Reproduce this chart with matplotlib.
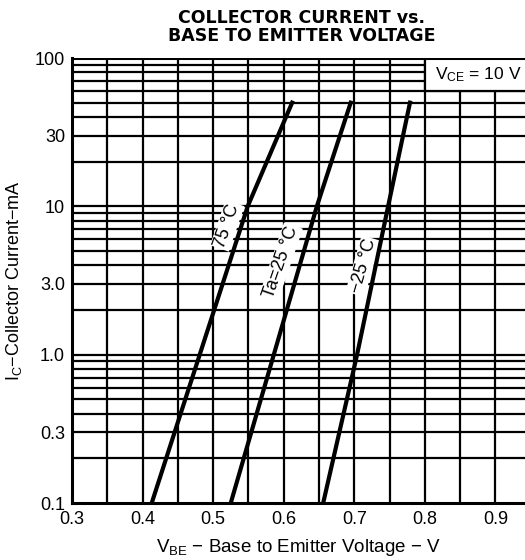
import matplotlib.pyplot as plt
import numpy as np
from matplotlib.patches import Rectangle

plt.rcParams['font.family'] = ['Liberation Sans', 'DejaVu Sans']

# curves: collector current (mA) vs V_BE (V)
ic_pts = [0.1, 1.0, 10.0, 50.0]
vbe_75 = [0.413, 0.481, 0.549, 0.612]
vbe_25 = [0.525, 0.586, 0.647, 0.695]
vbe_m25 = [0.656, 0.704, 0.748, 0.779]

x_ticks = [0.3, 0.4, 0.5, 0.6, 0.7, 0.8, 0.9]
y_ticks = [0.1, 0.3, 1.0, 3.0, 10, 30, 100]
y_labels = ['0.1', '0.3', '1.0', '3.0', '10', '30', '100']

fig = plt.figure(figsize=(5.25, 5.6), dpi=100)
ax = fig.add_axes([72/525, 1-503/560, 1-72/525, (503-58)/560])

ax.set_yscale('log')
ax.set_xlim(0.3, 0.942)
ax.set_ylim(0.1, 100)

# grid: every 0.05 V, and 1..9 in each decade
for xv in np.arange(0.35, 0.93, 0.05):
    ax.axvline(xv, color='black', lw=1.6, zorder=1)
for dec in [0.1, 1, 10]:
    for m in range(1, 10):
        if dec*m > 0.1:
            ax.axhline(dec*m, color='black', lw=1.6, zorder=1)

# V_CE box in the top right corner
ax.add_patch(Rectangle((0.8, 60), 0.2, 50, facecolor='white',
                       edgecolor='black', lw=1.6, zorder=2))
ax.text(0.814, 77, r'$\mathregular{V_{CE}}$ = 10 V', fontsize=12.5,
        va='center', ha='left', zorder=3)

ax.plot(vbe_75, ic_pts, color='black', lw=3, zorder=4)
ax.plot(vbe_25, ic_pts, color='black', lw=3, zorder=4)
ax.plot(vbe_m25, ic_pts, color='black', lw=3, zorder=4)

box = dict(facecolor='white', edgecolor='none', pad=1)
ax.text(0.520, 7.4, '75 °C', rotation=71, fontsize=13, ha='center',
        va='center', bbox=box, zorder=3)
ax.text(0.596, 4.2, 'Ta=25 °C', rotation=71, fontsize=13, ha='center',
        va='center', bbox=box, zorder=3)
ax.text(0.7125, 3.95, '−25 °C', rotation=74, fontsize=13, ha='center',
        va='center', bbox=box, zorder=3)

ax.set_xticks(x_ticks)
ax.set_xticklabels([f'{v:.1f}' for v in x_ticks])
ax.set_yticks(y_ticks)
ax.set_yticklabels(y_labels)
ax.yaxis.set_minor_locator(plt.NullLocator())
ax.tick_params(length=0, labelsize=13)
ax.tick_params(axis='y', pad=5)
ax.tick_params(axis='x', pad=6)

for s in ['top', 'right']:
    ax.spines[s].set_visible(False)
for s in ['left', 'bottom']:
    ax.spines[s].set_linewidth(2.2)
    ax.spines[s].set_zorder(5)
ax.axhline(100, color='black', lw=2.2, zorder=5)

ax.set_xlabel(r'$\mathregular{V_{BE}}$ − Base to Emitter Voltage − V',
              fontsize=13.5, labelpad=6)
ax.set_ylabel(r'$\mathregular{I_C}$−Collector Current−mA',
              fontsize=13, labelpad=8)

fig.text(0.574, 0.968, 'COLLECTOR CURRENT vs.', ha='center', va='center',
         fontsize=12.5, fontweight='bold', family='DejaVu Sans')
fig.text(0.574, 0.935, 'BASE TO EMITTER VOLTAGE', ha='center', va='center',
         fontsize=12.5, fontweight='bold', family='DejaVu Sans')

fig.savefig('out.png', dpi=100)
